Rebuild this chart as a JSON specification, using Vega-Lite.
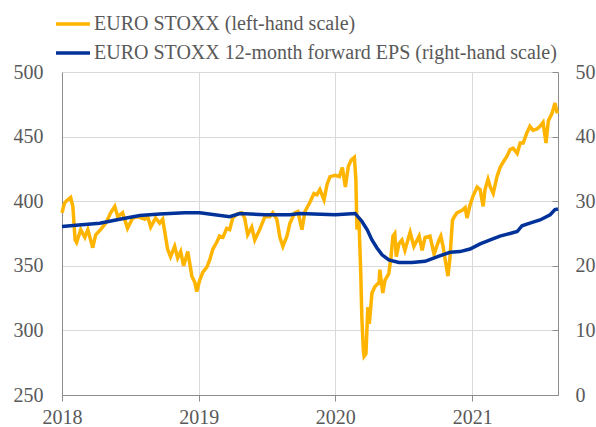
{
  "$schema": "https://vega.github.io/schema/vega-lite/v6.json",
  "width": 496,
  "height": 323,
  "autosize": {"type": "none"},
  "padding": {"left": 62, "top": 72, "right": 38, "bottom": 32},
  "background": "white",
  "config": {
    "view": {"stroke": null},
    "font": "'Liberation Serif', 'DejaVu Serif', serif",
    "axis": {"labelFont": "'Liberation Serif', 'DejaVu Serif', serif", "labelFontSize": 20, "labelColor": "#595959", "domainColor": "#8c8c8c", "tickColor": "#8c8c8c", "gridColor": "#d9d9d9", "titleFontSize": 0},
    "legend": {"labelFont": "'Liberation Serif', 'DejaVu Serif', serif", "labelFontSize": 20, "labelColor": "#595959"}
  },
  "datasets": {
    "price": [
      {"d": "2018-01-01", "v": 391}, {"d": "2018-01-07", "v": 398}, {"d": "2018-01-12", "v": 400}, {"d": "2018-01-24", "v": 403}, {"d": "2018-01-30", "v": 396},
      {"d": "2018-02-05", "v": 370}, {"d": "2018-02-09", "v": 368}, {"d": "2018-02-20", "v": 378}, {"d": "2018-03-03", "v": 372}, {"d": "2018-03-11", "v": 378},
      {"d": "2018-03-24", "v": 364}, {"d": "2018-04-01", "v": 374}, {"d": "2018-04-14", "v": 378}, {"d": "2018-04-28", "v": 383}, {"d": "2018-05-11", "v": 391},
      {"d": "2018-05-22", "v": 396}, {"d": "2018-05-30", "v": 388}, {"d": "2018-06-12", "v": 391}, {"d": "2018-06-25", "v": 379}, {"d": "2018-07-09", "v": 387},
      {"d": "2018-07-22", "v": 388}, {"d": "2018-08-10", "v": 386}, {"d": "2018-08-18", "v": 388}, {"d": "2018-08-26", "v": 380}, {"d": "2018-09-08", "v": 387},
      {"d": "2018-09-19", "v": 383}, {"d": "2018-09-27", "v": 386}, {"d": "2018-10-10", "v": 363}, {"d": "2018-10-18", "v": 357}, {"d": "2018-10-29", "v": 365},
      {"d": "2018-11-06", "v": 356}, {"d": "2018-11-14", "v": 361}, {"d": "2018-11-22", "v": 350}, {"d": "2018-12-03", "v": 361}, {"d": "2018-12-14", "v": 342},
      {"d": "2018-12-22", "v": 337}, {"d": "2018-12-27", "v": 330}, {"d": "2019-01-04", "v": 339}, {"d": "2019-01-12", "v": 345}, {"d": "2019-01-23", "v": 349},
      {"d": "2019-01-31", "v": 355}, {"d": "2019-02-08", "v": 363}, {"d": "2019-02-18", "v": 368}, {"d": "2019-02-26", "v": 373}, {"d": "2019-03-07", "v": 372},
      {"d": "2019-03-17", "v": 379}, {"d": "2019-03-25", "v": 378}, {"d": "2019-04-02", "v": 387}, {"d": "2019-04-13", "v": 390}, {"d": "2019-04-26", "v": 391},
      {"d": "2019-05-04", "v": 387}, {"d": "2019-05-12", "v": 374}, {"d": "2019-05-23", "v": 380}, {"d": "2019-05-31", "v": 370}, {"d": "2019-06-13", "v": 378},
      {"d": "2019-06-27", "v": 388}, {"d": "2019-07-10", "v": 388}, {"d": "2019-07-18", "v": 391}, {"d": "2019-07-29", "v": 386}, {"d": "2019-08-06", "v": 372},
      {"d": "2019-08-14", "v": 365}, {"d": "2019-08-25", "v": 373}, {"d": "2019-09-02", "v": 383}, {"d": "2019-09-15", "v": 391}, {"d": "2019-09-23", "v": 392},
      {"d": "2019-10-04", "v": 378}, {"d": "2019-10-12", "v": 392}, {"d": "2019-10-25", "v": 399}, {"d": "2019-11-05", "v": 406}, {"d": "2019-11-13", "v": 405},
      {"d": "2019-11-21", "v": 409}, {"d": "2019-12-02", "v": 401}, {"d": "2019-12-10", "v": 413}, {"d": "2019-12-18", "v": 419}, {"d": "2020-01-01", "v": 420},
      {"d": "2020-01-12", "v": 419}, {"d": "2020-01-20", "v": 426}, {"d": "2020-01-28", "v": 411}, {"d": "2020-02-05", "v": 427}, {"d": "2020-02-13", "v": 432},
      {"d": "2020-02-21", "v": 434}, {"d": "2020-02-25", "v": 417}, {"d": "2020-02-28", "v": 378}, {"d": "2020-03-04", "v": 388}, {"d": "2020-03-09", "v": 345},
      {"d": "2020-03-12", "v": 310}, {"d": "2020-03-16", "v": 285}, {"d": "2020-03-18", "v": 280}, {"d": "2020-03-23", "v": 282}, {"d": "2020-03-28", "v": 318},
      {"d": "2020-04-01", "v": 305}, {"d": "2020-04-08", "v": 329}, {"d": "2020-04-16", "v": 334}, {"d": "2020-04-27", "v": 337}, {"d": "2020-04-29", "v": 347},
      {"d": "2020-05-07", "v": 329}, {"d": "2020-05-13", "v": 339}, {"d": "2020-05-23", "v": 344}, {"d": "2020-05-29", "v": 357}, {"d": "2020-06-03", "v": 373},
      {"d": "2020-06-08", "v": 375}, {"d": "2020-06-12", "v": 357}, {"d": "2020-06-19", "v": 367}, {"d": "2020-06-27", "v": 370}, {"d": "2020-07-05", "v": 362},
      {"d": "2020-07-19", "v": 376}, {"d": "2020-07-29", "v": 365}, {"d": "2020-08-12", "v": 373}, {"d": "2020-08-20", "v": 362}, {"d": "2020-08-28", "v": 372},
      {"d": "2020-09-10", "v": 373}, {"d": "2020-09-21", "v": 359}, {"d": "2020-10-04", "v": 370}, {"d": "2020-10-09", "v": 373}, {"d": "2020-10-15", "v": 365},
      {"d": "2020-10-28", "v": 342}, {"d": "2020-11-02", "v": 355}, {"d": "2020-11-09", "v": 385}, {"d": "2020-11-14", "v": 388}, {"d": "2020-11-21", "v": 391},
      {"d": "2020-12-05", "v": 393}, {"d": "2020-12-13", "v": 395}, {"d": "2020-12-18", "v": 387}, {"d": "2020-12-26", "v": 397}, {"d": "2021-01-03", "v": 404},
      {"d": "2021-01-14", "v": 411}, {"d": "2021-01-22", "v": 409}, {"d": "2021-01-30", "v": 396}, {"d": "2021-02-04", "v": 409}, {"d": "2021-02-12", "v": 417},
      {"d": "2021-02-18", "v": 411}, {"d": "2021-02-26", "v": 406}, {"d": "2021-03-08", "v": 419}, {"d": "2021-03-16", "v": 426}, {"d": "2021-03-24", "v": 430},
      {"d": "2021-04-04", "v": 435}, {"d": "2021-04-12", "v": 440}, {"d": "2021-04-20", "v": 441}, {"d": "2021-05-01", "v": 437}, {"d": "2021-05-09", "v": 445},
      {"d": "2021-05-17", "v": 445}, {"d": "2021-05-27", "v": 453}, {"d": "2021-06-04", "v": 458}, {"d": "2021-06-12", "v": 455}, {"d": "2021-06-23", "v": 456},
      {"d": "2021-07-01", "v": 458}, {"d": "2021-07-09", "v": 461}, {"d": "2021-07-17", "v": 445}, {"d": "2021-07-23", "v": 462}, {"d": "2021-08-02", "v": 468},
      {"d": "2021-08-10", "v": 476}, {"d": "2021-08-16", "v": 468}
    ],
    "eps": [
      {"d": "2018-01-01", "v": 26.1}, {"d": "2018-02-15", "v": 26.3}, {"d": "2018-04-12", "v": 26.6}, {"d": "2018-06-04", "v": 27.2}, {"d": "2018-07-28", "v": 27.8},
      {"d": "2018-09-19", "v": 28.0}, {"d": "2018-11-25", "v": 28.2}, {"d": "2019-01-04", "v": 28.2}, {"d": "2019-03-25", "v": 27.6}, {"d": "2019-04-21", "v": 28.1},
      {"d": "2019-06-27", "v": 27.9}, {"d": "2019-09-02", "v": 27.9}, {"d": "2019-09-28", "v": 28.1}, {"d": "2020-01-01", "v": 27.9}, {"d": "2020-02-23", "v": 28.1},
      {"d": "2020-03-12", "v": 26.9}, {"d": "2020-03-26", "v": 25.6}, {"d": "2020-04-08", "v": 24.0}, {"d": "2020-04-21", "v": 22.8}, {"d": "2020-05-05", "v": 21.7},
      {"d": "2020-05-23", "v": 20.9}, {"d": "2020-06-19", "v": 20.5}, {"d": "2020-07-24", "v": 20.5}, {"d": "2020-08-28", "v": 20.7}, {"d": "2020-10-04", "v": 21.5},
      {"d": "2020-11-03", "v": 22.1}, {"d": "2020-11-29", "v": 22.2}, {"d": "2020-12-26", "v": 22.6}, {"d": "2021-01-22", "v": 23.4}, {"d": "2021-02-18", "v": 24.0},
      {"d": "2021-03-16", "v": 24.6}, {"d": "2021-04-12", "v": 25.0}, {"d": "2021-05-01", "v": 25.3}, {"d": "2021-05-14", "v": 26.2}, {"d": "2021-06-04", "v": 26.6},
      {"d": "2021-07-01", "v": 27.1}, {"d": "2021-07-28", "v": 27.9}, {"d": "2021-08-10", "v": 28.7}, {"d": "2021-08-18", "v": 28.8}
    ]
  },
  "encoding": {
    "x": {
      "field": "d", "type": "temporal",
      "scale": {"type": "utc", "domain": [{"year": 2018, "month": 1, "date": 1, "utc": true}, {"year": 2021, "month": 8, "date": 18, "utc": true}]},
      "axis": {
        "title": null, "format": "%Y", "formatType": "utc",
        "values": [{"year": 2018, "month": 1, "date": 1, "utc": true}, {"year": 2019, "month": 1, "date": 1, "utc": true}, {"year": 2020, "month": 1, "date": 1, "utc": true}, {"year": 2021, "month": 1, "date": 1, "utc": true}],
        "grid": true, "tickSize": 6, "labelPadding": 6, "labelFlush": false
      }
    }
  },
  "layer": [
    {
      "data": {"name": "price"},
      "mark": {"type": "line", "strokeWidth": 3.5, "interpolate": "linear"},
      "encoding": {
        "y": {
          "field": "v", "type": "quantitative",
          "scale": {"domain": [250, 500], "nice": false, "zero": false},
          "axis": {"title": null, "orient": "left", "values": [250, 300, 350, 400, 450, 500], "grid": true, "ticks": false, "tickSize": 0, "labelPadding": 19}
        },
        "color": {
          "datum": "EURO STOXX (left-hand scale)",
          "scale": {"domain": ["EURO STOXX (left-hand scale)", "EURO STOXX 12-month forward EPS (right-hand scale)"], "range": ["#FFB400", "#003299"]},
          "legend": {
            "title": null, "orient": "none", "legendX": -8, "legendY": -67, "padding": 0,
            "symbolType": "stroke", "symbolSize": 1156, "symbolStrokeWidth": 3.5,
            "labelOffset": 2, "rowPadding": -8, "labelLimit": 600
          }
        }
      }
    },
    {
      "data": {"name": "eps"},
      "mark": {"type": "line", "strokeWidth": 3.5},
      "encoding": {
        "y": {
          "field": "v", "type": "quantitative",
          "scale": {"domain": [0, 50], "nice": false},
          "axis": {"title": null, "orient": "right", "values": [0, 10, 20, 30, 40, 50], "grid": false, "tickSize": -6, "labelPadding": 23}
        },
        "color": {"datum": "EURO STOXX 12-month forward EPS (right-hand scale)"}
      }
    }
  ],
  "resolve": {"scale": {"y": "independent"}}
}
